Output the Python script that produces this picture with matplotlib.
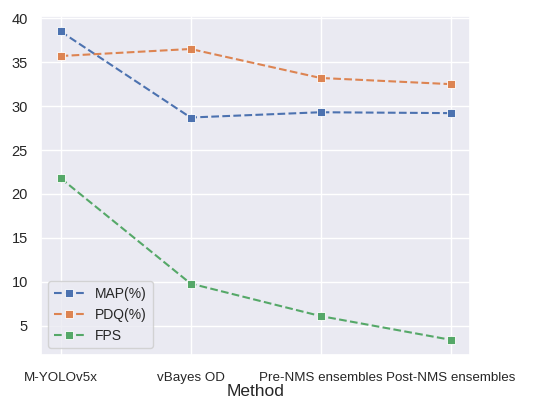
import matplotlib
matplotlib.use("Agg")
import matplotlib.pyplot as plt
import seaborn as sns

# Values
methods = ["M-YOLOv5x", "vBayes OD", "Pre-NMS ensembles", "Post-NMS ensembles"]
map_pct = [38.5, 28.7, 29.3, 29.2]
pdq_pct = [35.7, 36.5, 33.2, 32.5]
fps = [21.8, 9.8, 6.1, 3.4]

sns.set_theme(style="darkgrid")
plt.rcParams['font.family'] = ['Liberation Sans', 'DejaVu Sans']

fig, ax = plt.subplots(figsize=(5.55, 4.0), dpi=100)
x = range(len(methods))
ax.plot(x, map_pct, "s--", color="#4c72b0", label="MAP(%)", linewidth=1.5,
        markersize=5.5, markeredgecolor="white", markeredgewidth=0.6)
ax.plot(x, pdq_pct, "s--", color="#dd8452", label="PDQ(%)", linewidth=1.5,
        markersize=5.5, markeredgecolor="white", markeredgewidth=0.6)
ax.plot(x, fps, "s--", color="#55a868", label="FPS", linewidth=1.5,
        markersize=5.5, markeredgecolor="white", markeredgewidth=0.6)

ax.set_xticks(list(x))
ax.set_xticklabels(methods, fontsize=9.6)
ax.tick_params(axis="x", pad=6)
ax.tick_params(axis="y", labelsize=10.5)
ax.set_xlabel("Method", fontsize=12.5, labelpad=0)
ax.legend(loc="lower left", fontsize=10, handlelength=2.2)

fig.subplots_adjust(left=0.074, right=0.847, bottom=0.112, top=0.96)
fig.savefig("out.png", dpi=100)
